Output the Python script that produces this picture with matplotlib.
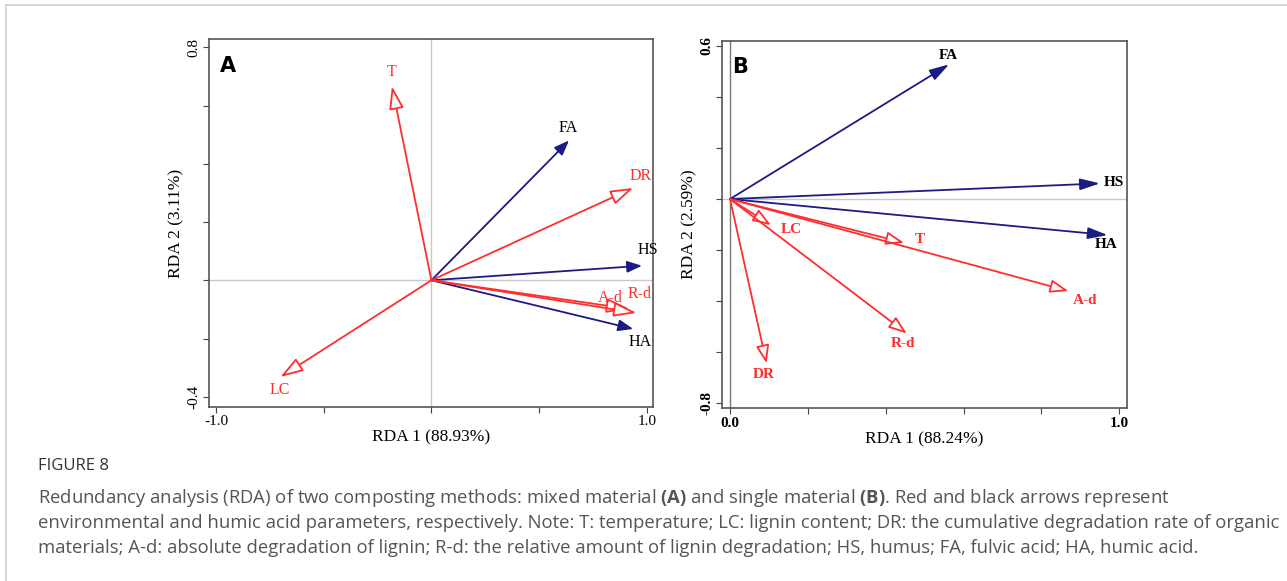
import matplotlib
matplotlib.use('Agg')
import matplotlib.pyplot as plt
from matplotlib.lines import Line2D

RED = '#ff2e2e'
NAVY = '#1c1a84'
GRID = '#c8c8c8'

# Panel A: mixed material
a_env_names = ['T', 'DR', 'A-d', 'R-d', 'LC']
a_env_x = [-0.183, 0.937, 0.918, 0.952, -0.701]
a_env_y = [0.666, 0.317, -0.098, -0.112, -0.332]
a_hum_names = ['FA', 'HS', 'HA']
a_hum_x = [0.639, 0.978, 0.937]
a_hum_y = [0.480, 0.050, -0.167]

# Panel B: single material
b_env_names = ['LC', 'T', 'A-d', 'R-d', 'DR']
b_env_x = [0.105, 0.447, 0.869, 0.454, 0.094]
b_env_y = [-0.102, -0.171, -0.360, -0.526, -0.643]
b_hum_names = ['FA', 'HS', 'HA']
b_hum_x = [0.563, 0.950, 0.970]
b_hum_y = [0.527, 0.061, -0.141]

plt.rcParams['mathtext.fontset'] = 'custom'
plt.rcParams['mathtext.rm'] = 'Open Sans'
plt.rcParams['mathtext.bf'] = 'Open Sans:bold'

fig = plt.figure(figsize=(12.87, 5.81), dpi=100)
W, H = 1287, 581

def px_axes(l, t, r, b):
    return fig.add_axes([l / W, 1 - b / H, (r - l) / W, (b - t) / H])

# page border lines
fig.add_artist(Line2D([6 / W, 1], [1 - 5 / H, 1 - 5 / H], color='#d0d0d0', lw=1.2))
fig.add_artist(Line2D([6 / W, 6 / W], [0, 1 - 5 / H], color='#d0d0d0', lw=1.2))

serif = 'Liberation Serif'


def arrow(ax, x, y, color, hollow, hl, hw):
    style = f'-|>,head_length={hl},head_width={hw}'
    ax.annotate('', xy=(x, y), xytext=(0, 0), xycoords='data', textcoords='data',
                arrowprops=dict(arrowstyle=style, color=color, lw=1.3,
                                fc='white' if hollow else color,
                                shrinkA=0, shrinkB=0, mutation_scale=10))


def style_axes(ax, xlim, ylim, xticks, yticks, xlab, ylab):
    ax.set_xlim(*xlim)
    ax.set_ylim(*ylim)
    ax.set_xticks(xticks)
    ax.set_yticks(yticks)
    ax.set_xticklabels([f'{xticks[0]:.1f}'] + [''] * (len(xticks) - 2) + [f'{xticks[-1]:.1f}'],
                       fontfamily=serif, fontsize=11)
    ax.set_yticklabels([f'{yticks[0]:.1f}'] + [''] * (len(yticks) - 2) + [f'{yticks[-1]:.1f}'],
                       fontfamily=serif, fontsize=11, rotation=90, va='center')
    ax.tick_params(direction='out', length=4, width=0.8, color='#444444', pad=2)
    for s in ax.spines.values():
        s.set_color('#555555')
        s.set_linewidth(1.2)
    ax.set_xlabel(xlab, fontfamily=serif, fontsize=12.5, labelpad=1)
    ax.set_ylabel(ylab, fontfamily=serif, fontsize=12.5, labelpad=2)
    ax.axhline(0, color=GRID, lw=1, zorder=0)


# ---------------- Panel A ----------------
axA = px_axes(209, 39, 653, 407)
style_axes(axA, (-1.0325, 1.029), (-0.435, 0.8285),
           [-1.0, -0.5, 0.0, 0.5, 1.0], [-0.4, -0.2, 0.0, 0.2, 0.4, 0.6, 0.8],
           'RDA 1 (88.93%)', 'RDA 2 (3.11%)')
axA.axvline(0, color=GRID, lw=1, zorder=0)
for x, y in zip(a_hum_x, a_hum_y):
    arrow(axA, x, y, NAVY, False, 0.9, 0.35)
for x, y in zip(a_env_x, a_env_y):
    arrow(axA, x, y, RED, True, 1.4, 0.45)

a_lab_off = {'T': (0, 14), 'DR': (7, 12), 'A-d': (-19, 11), 'R-d': (3, 19),
             'LC': (-1, -13), 'FA': (-1, 13), 'HS': (6, 16), 'HA': (7, -13)}
for n, x, y in zip(a_env_names, a_env_x, a_env_y):
    axA.annotate(n, (x, y), xytext=a_lab_off[n], textcoords='offset pixels',
                 ha='center', va='center', color=RED, fontfamily=serif, fontsize=11.5)
for n, x, y in zip(a_hum_names, a_hum_x, a_hum_y):
    axA.annotate(n, (x, y), xytext=a_lab_off[n], textcoords='offset pixels',
                 ha='center', va='center', color='black', fontfamily=serif, fontsize=11.5)
axA.text(0.025, 0.955, 'A', transform=axA.transAxes, ha='left', va='top',
         fontsize=15, fontweight='bold', fontfamily='DejaVu Sans')

# ---------------- Panel B ----------------
axB = px_axes(721.7, 40.7, 1126.7, 408.3)
style_axes(axB, (-0.0213, 1.019), (-0.819, 0.6196),
           [0.0, 0.2, 0.4, 0.6, 0.8, 1.0],
           [-0.8, -0.6, -0.4, -0.2, 0.0, 0.2, 0.4, 0.6],
           'RDA 1 (88.24%)', 'RDA 2 (2.59%)')
axB.axvline(0, color='#777777', lw=1, zorder=0)
for lbl in axB.get_xticklabels():
    lbl.set_fontweight('bold')
for lbl in axB.get_yticklabels():
    lbl.set_fontweight('bold')
for x, y in zip(b_hum_x, b_hum_y):
    arrow(axB, x, y, NAVY, False, 1.2, 0.35)
for x, y in zip(b_env_x, b_env_y):
    arrow(axB, x, y, RED, True, 1.1, 0.4)

b_lab_off = {'LC': (20, -4), 'T': (16, 3), 'A-d': (17, -9), 'R-d': (-4, -10),
             'DR': (-3, -11), 'FA': (-1, 9), 'HS': (14, 1), 'HA': (-1, -9)}
for n, x, y in zip(b_env_names, b_env_x, b_env_y):
    axB.annotate(n, (x, y), xytext=b_lab_off[n], textcoords='offset pixels',
                 ha='center', va='center', color=RED, fontfamily=serif,
                 fontsize=11, fontweight='bold')
for n, x, y in zip(b_hum_names, b_hum_x, b_hum_y):
    axB.annotate(n, (x, y), xytext=b_lab_off[n], textcoords='offset pixels',
                 ha='center', va='center', color='black', fontfamily=serif,
                 fontsize=11, fontweight='bold')
axB.text(0.025, 0.955, 'B', transform=axB.transAxes, ha='left', va='top',
         fontsize=15, fontweight='bold', fontfamily='DejaVu Sans')

# ---------------- Caption ----------------
cap_font = 'Open Sans'
fig.text(38 / W, 1 - 466 / H, 'FIGURE 8', ha='left', va='center',
         fontsize=12, color='#333333', fontfamily=cap_font)
lines = [
    'Redundancy analysis (RDA) of two composting methods: mixed material $\\mathbf{(A)}$ and single material $\\mathbf{(B)}$. Red and black arrows represent',
    'environmental and humic acid parameters, respectively. Note: T: temperature; LC: lignin content; DR: the cumulative degradation rate of organic',
    'materials; A-d: absolute degradation of lignin; R-d: the relative amount of lignin degradation; HS, humus; FA, fulvic acid; HA, humic acid.',
]
for i, ln in enumerate(lines):
    fig.text(38 / W, 1 - (498 + 25 * i) / H, ln, ha='left', va='center',
             fontsize=13.3, color='#555555', fontfamily=cap_font)

fig.savefig('out.png', dpi=100)
